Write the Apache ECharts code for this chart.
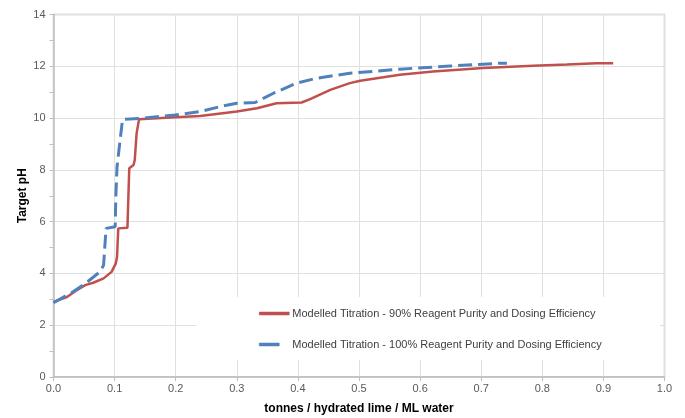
<!DOCTYPE html>
<html><head><meta charset="utf-8">
<script src="https://cdn.jsdelivr.net/npm/echarts@6/dist/echarts.min.js"></script>
<style>html,body{margin:0;padding:0;background:#fff}#c{width:685px;height:418px}</style>
</head><body><div id="c"></div>
<script>
var xTicks = [0.0,0.1,0.2,0.3,0.4,0.5,0.6,0.7,0.8,0.9,1.0];
var yTicks = [0,2,4,6,8,10,12,14];
var nameRed = 'Modelled Titration - 90% Reagent Purity and Dosing Efficiency';
var nameBlue = 'Modelled Titration - 100% Reagent Purity and Dosing Efficiency';
var xRed = [0.000,0.022,0.038,0.052,0.065,0.082,0.095,0.102,0.104,0.106,0.121,0.124,0.131,0.133,0.136,0.140,0.199,0.240,0.300,0.333,0.365,0.406,0.420,0.453,0.485,0.502,0.567,0.621,0.703,0.785,0.840,0.889,0.916];
var yRed = [2.90,3.09,3.35,3.55,3.64,3.81,4.06,4.39,4.64,5.74,5.76,8.06,8.19,8.38,9.41,9.95,10.03,10.08,10.25,10.38,10.57,10.60,10.73,11.09,11.35,11.44,11.67,11.80,11.93,12.02,12.07,12.12,12.12];
var xBlue = [0.000,0.032,0.052,0.076,0.082,0.086,0.101,0.102,0.104,0.109,0.113,0.142,0.199,0.240,0.272,0.300,0.330,0.360,0.398,0.431,0.485,0.567,0.649,0.731,0.742];
var yBlue = [2.87,3.29,3.61,4.06,4.32,5.74,5.80,6.96,8.12,9.15,9.95,9.99,10.12,10.25,10.44,10.57,10.60,10.96,11.35,11.54,11.73,11.89,12.01,12.12,12.12];

function zip(a,b){return a.map(function(v,i){return [v,b[i]];});}
var axisCol = '#bfbfbf', gridCol = '#e0e0e0', lblCol = '#595959';
var chart = echarts.init(document.getElementById('c'), null, {renderer:'canvas'});
function legItem(name, col){
  return {name:name, icon:'rect',
    itemStyle:{color:col, borderColor:col, borderWidth:0.5, borderType:[100,0]},
    lineStyle:{type:[100,0], width:3, color:col}};
}
chart.setOption({
  animation:false,
  backgroundColor:'#fff',
  grid:{left:53.5,right:20.5,top:14.5,bottom:41,show:true,borderColor:axisCol,borderWidth:1.5,containLabel:false,outerBoundsMode:'none'},
  xAxis:{type:'value',min:xTicks[0],max:xTicks[xTicks.length-1],interval:0.1,
    name:'tonnes / hydrated lime / ML water',nameLocation:'middle',nameGap:26,nameMoveOverlap:false,
    nameTextStyle:{fontFamily:'Liberation Sans, Arial',fontSize:12,fontWeight:'bold',color:'#000'},
    axisLine:{show:true,lineStyle:{color:axisCol,width:1.5}},
    axisTick:{show:true,length:4,lineStyle:{color:axisCol}},
    axisLabel:{color:lblCol,fontSize:11,fontFamily:'Liberation Sans, Arial',margin:6,formatter:function(v){return v.toFixed(1);}},
    splitLine:{show:true,lineStyle:{color:gridCol,width:1}}},
  yAxis:{type:'value',min:yTicks[0],max:yTicks[yTicks.length-1],interval:2,
    name:'Target pH',nameLocation:'middle',nameGap:25,nameRotate:90,nameMoveOverlap:false,
    nameTextStyle:{fontFamily:'Liberation Sans, Arial',fontSize:12,fontWeight:'bold',color:'#000'},
    axisLine:{show:true,lineStyle:{color:axisCol,width:1.5}},
    axisTick:{show:true,length:4,lineStyle:{color:axisCol}},
    minorTick:{show:true,splitNumber:2,length:4,lineStyle:{color:axisCol}},
    axisLabel:{color:lblCol,fontSize:11,fontFamily:'Liberation Sans, Arial',margin:8},
    splitLine:{show:true,lineStyle:{color:gridCol,width:1}}},
  graphic:[{type:'rect',z:3,shape:{x:196,y:297,width:464,height:63},style:{fill:'#fff'}}],
  legend:[
    {data:[legItem(nameRed,'#C0504D')],left:259,top:308,padding:0,itemWidth:30,itemHeight:3,itemGap:0,
     textStyle:{color:'#404040',fontSize:11,fontFamily:'Liberation Sans, Arial',padding:[0,0,0,-2]}},
    {data:[legItem(nameBlue,'#4F81BD')],left:259,top:339,padding:0,itemWidth:20,itemHeight:3,itemGap:0,
     textStyle:{color:'#404040',fontSize:11,fontFamily:'Liberation Sans, Arial',padding:[0,0,0,8]}}
  ],
  series:[
    {name:nameRed,type:'line',data:zip(xRed,yRed),showSymbol:false,symbol:'none',smooth:false,
     lineStyle:{color:'#C0504D',width:2.5},itemStyle:{color:'#C0504D'},z:3},
    {name:nameBlue,type:'line',data:zip(xBlue,yBlue),showSymbol:false,symbol:'none',smooth:false,
     lineStyle:{color:'#4F81BD',width:3,type:[14,6]},itemStyle:{color:'#4F81BD'},z:4}
  ]
});
</script></body></html>
